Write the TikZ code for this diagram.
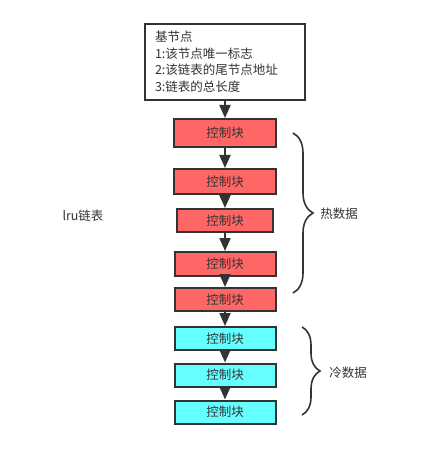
\documentclass[tikz,border=0pt]{standalone}
\usepackage{fontspec}
\setmainfont{Noto Sans CJK SC}
\usetikzlibrary{arrows.meta,decorations.pathreplacing}

\definecolor{hotred}{HTML}{FF6666}
\definecolor{coldcyan}{HTML}{66FFFF}
\definecolor{inkgray}{HTML}{333333}

\tikzset{
  blk/.style={draw=inkgray,line width=2pt,text=inkgray,inner sep=0pt},
  hotblk/.style={blk,fill=hotred},
  coldblk/.style={blk,fill=coldcyan},
  link/.style={draw=inkgray,line width=2pt,-{Triangle[width=11pt,length=13pt]}},
  grp/.style={draw=inkgray,line width=1.6pt,decorate,decoration={brace,amplitude=#1}}
}

\begin{document}
\begin{tikzpicture}[x=1pt,y=-1pt,font=\fontsize{12.5}{16.5}\selectfont]
      \useasboundingbox (0,0) rectangle (434,449);

      % base node
      \node[blk,fill=white,text width=140pt,inner xsep=10pt,minimum height=76pt,align=left]
        (base) at (225,62) {基节点\\1:该节点唯一标志\\2:该链表的尾节点地址\\3:链表的总长度};

      \begin{scope}[every node/.style={hotblk}]
        \node[minimum width=102pt,minimum height=28pt] (hot1) at (225,133) {控制块};
        \node[minimum width=102pt,minimum height=25pt] (hot2) at (225,181.5) {控制块};
        \node[minimum width=96pt,minimum height=23pt]  (hot3) at (225,220.5) {控制块};
        \node[minimum width=101pt,minimum height=24pt] (hot4) at (225,264) {控制块};
        \node[minimum width=101pt,minimum height=23pt] (hot5) at (225,299.5) {控制块};
      \end{scope}

      \begin{scope}[every node/.style={coldblk,minimum width=101pt,minimum height=23pt}]
        \node (cold1) at (225,338.5) {控制块};
        \node (cold2) at (225,375) {控制块};
        \node (cold3) at (225,412) {控制块};
      \end{scope}

      \begin{scope}[every edge/.style={link}]
        \path (base)  edge (hot1);
        \path (hot1)  edge (hot2);
        \path (hot2)  edge (hot3);
        \path (hot3)  edge (hot4);
        \path (hot4)  edge (hot5);
        \path (hot5)  edge (cold1);
        \path (cold1) edge (cold2);
        \path (cold2) edge (cold3);
      \end{scope}

      % braces
      \coordinate (hottop) at (293,133);
      \coordinate (hotbot) at (293,293);
      \coordinate (coldtop) at (302,327);
      \coordinate (coldbot) at (302,415);
      \draw[grp=20pt] (hottop) -- (hotbot);
      \draw[grp=18pt] (coldtop) -- (coldbot);

      \begin{scope}[every node/.style={text=inkgray}]
        \node (lru)  at (83,216)  {lru链表};
        \node (hot)  at (339,214) {热数据};
        \node (cold) at (348,373) {冷数据};
      \end{scope}

\end{tikzpicture}
\end{document}
